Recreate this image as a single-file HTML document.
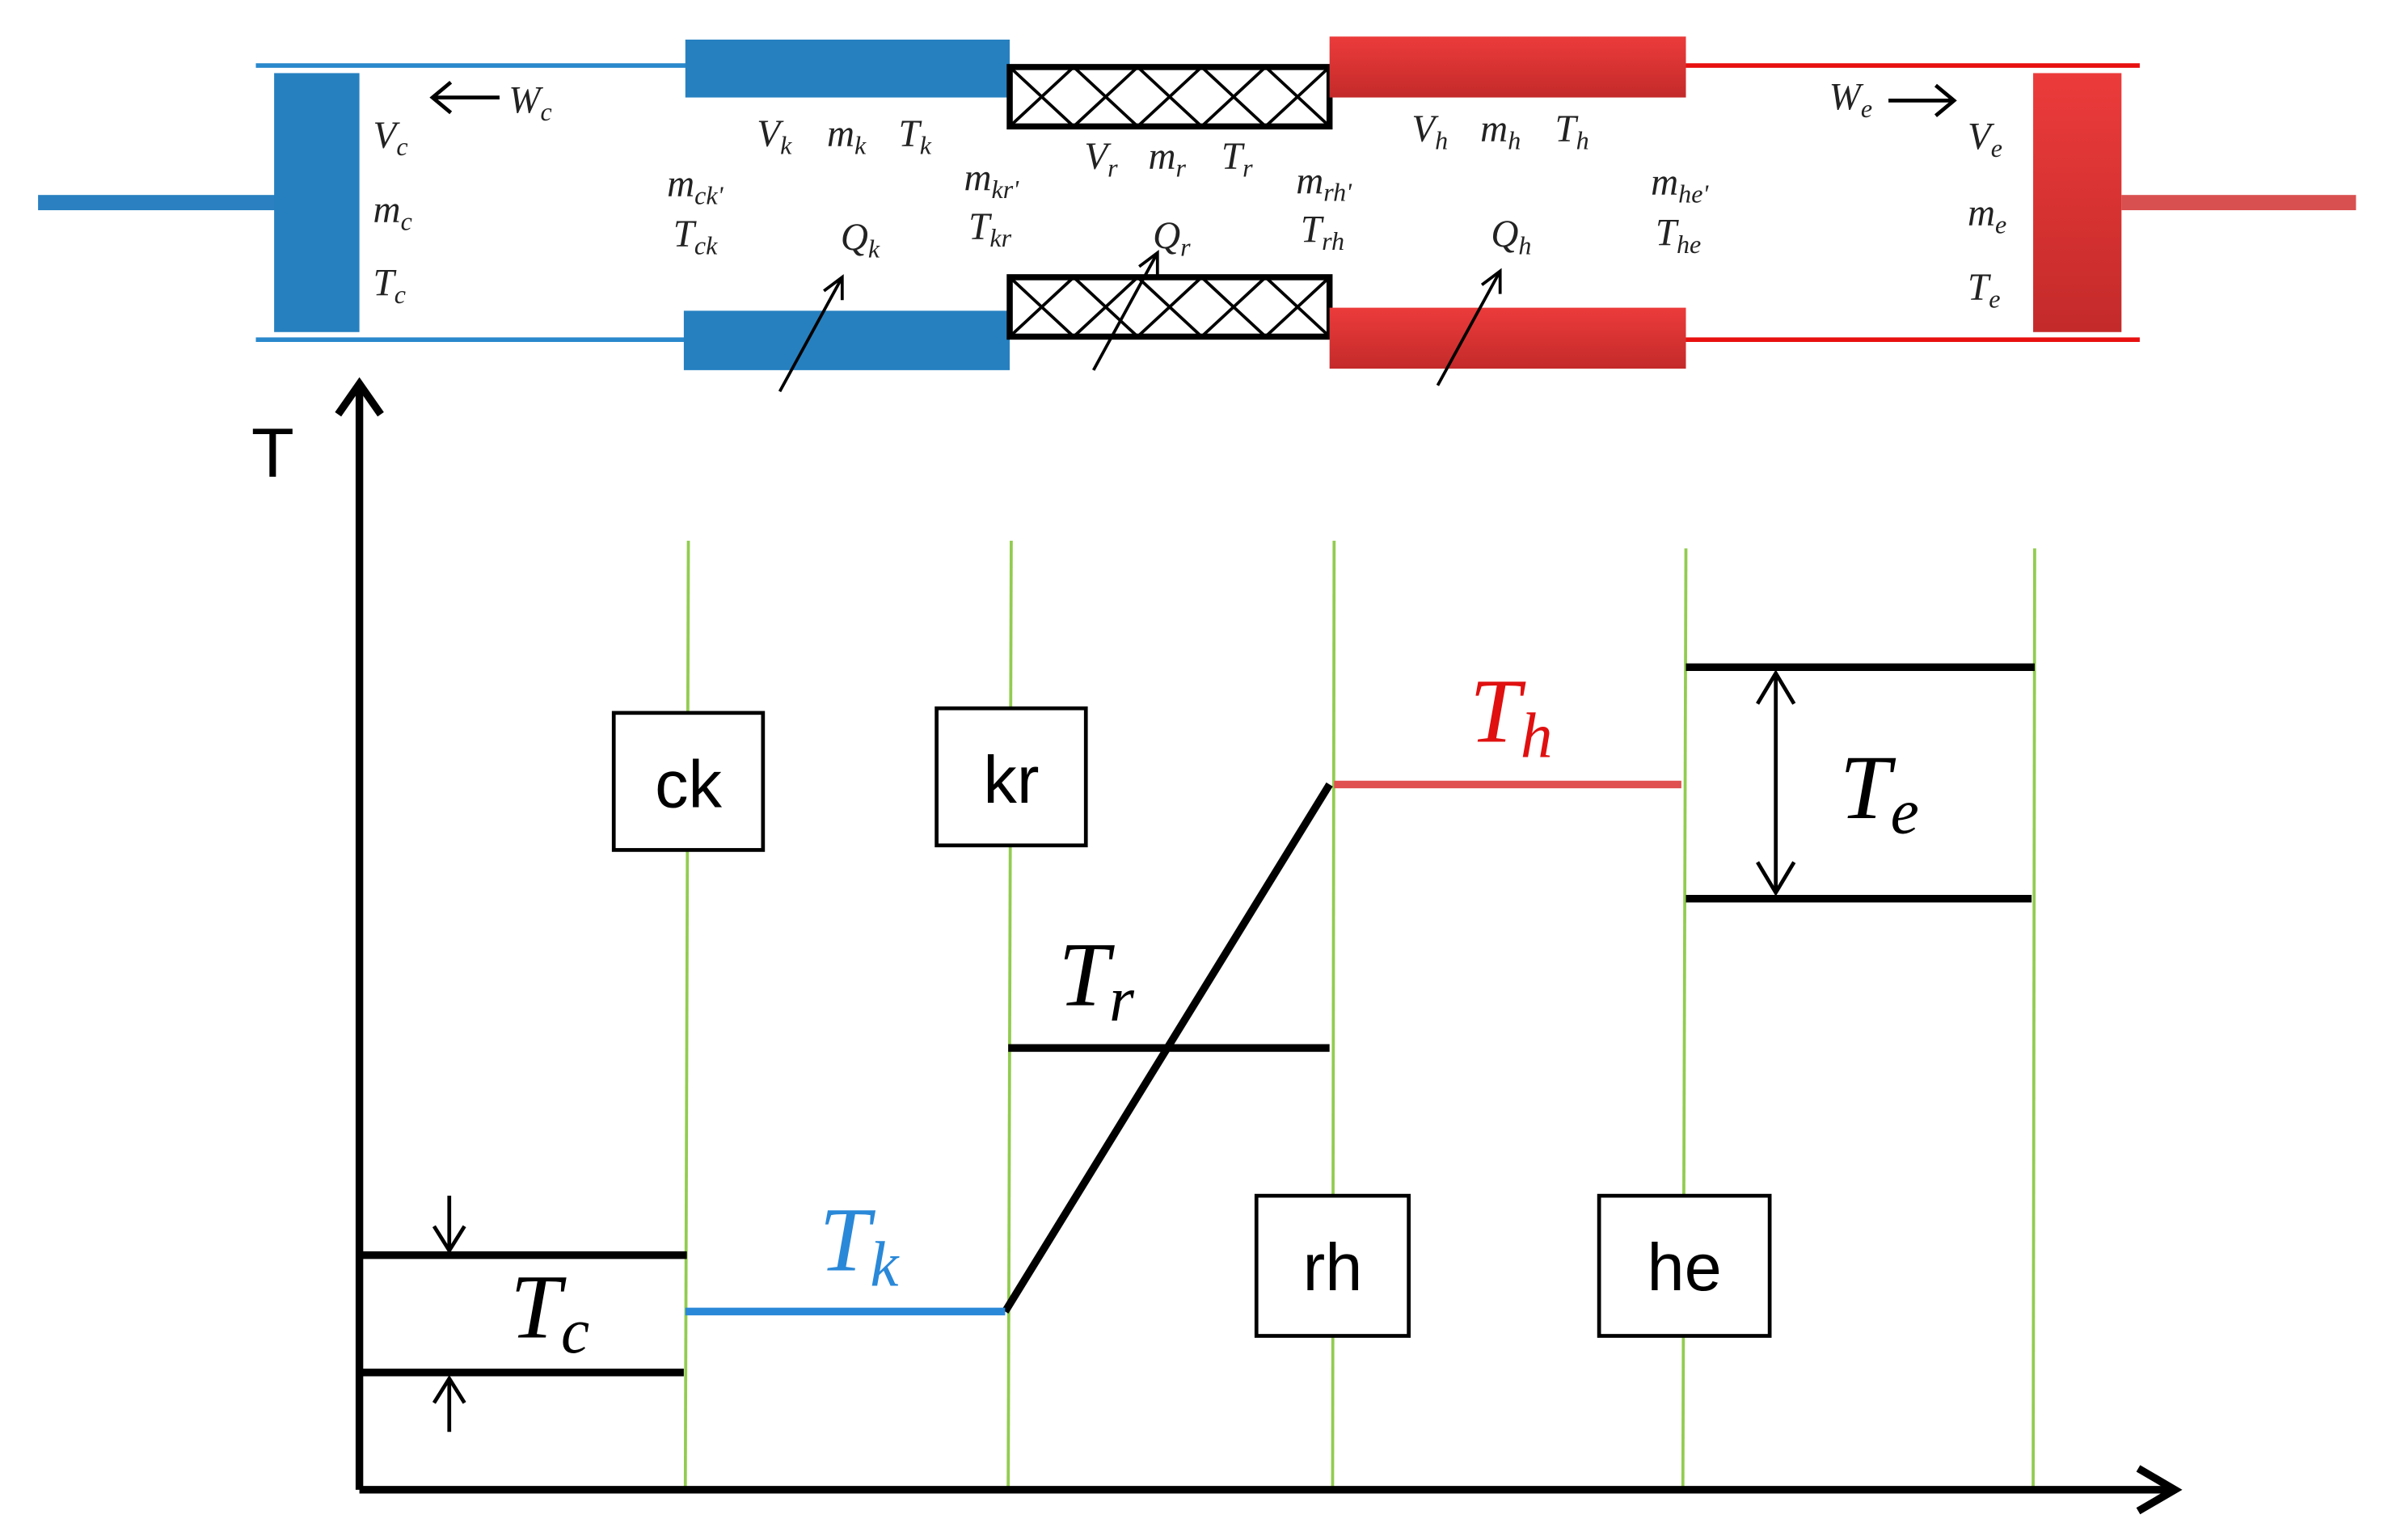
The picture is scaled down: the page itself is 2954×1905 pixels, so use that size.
<!DOCTYPE html>
<html><head><meta charset="utf-8"><style>
html,body{margin:0;padding:0;background:#fff;}
svg{display:block;}
.m{font-family:"Liberation Serif",serif;font-style:italic;font-size:25px;fill:#222;}
.s{font-size:17px;}
.b{font-family:"Liberation Serif",serif;font-style:italic;font-size:60px;}
.bs{font-size:42px;}
.box{font-family:"Liberation Sans",sans-serif;font-size:44px;fill:#000;}
</style></head><body>
<svg width="2954" height="1905" viewBox="0 0 1568 1011" preserveAspectRatio="none" xmlns="http://www.w3.org/2000/svg">
<defs>
<linearGradient id="rg" x1="0" y1="0" x2="0" y2="1"><stop offset="0" stop-color="#ec3b3b"/><stop offset="1" stop-color="#c42a2a"/></linearGradient>
</defs>
<rect x="25" y="128" width="156" height="10" fill="#2a80c0"/>
<rect x="180" y="48" width="56" height="170" fill="#2680c0"/>
<line x1="168" y1="43" x2="452" y2="43" stroke="#2a88cc" stroke-width="3"/>
<line x1="168" y1="223" x2="452" y2="223" stroke="#2a88cc" stroke-width="3"/>
<rect x="450" y="26" width="213" height="38" fill="#2680c0"/>
<rect x="449" y="204" width="214" height="39" fill="#2680c0"/>
<g stroke="#000" fill="none">
<rect x="663" y="44" width="210" height="39" stroke-width="4"/>
<rect x="663" y="182" width="210" height="39" stroke-width="4"/>
<path d="M663,44 L705,83 M705,44 L663,83 M705,44 L747,83 M747,44 L705,83 M747,44 L789,83 M789,44 L747,83 M789,44 L831,83 M831,44 L789,83 M831,44 L873,83 M873,44 L831,83" stroke-width="2"/>
<path d="M663,182 L705,221 M705,182 L663,221 M705,182 L747,221 M747,182 L705,221 M747,182 L789,221 M789,182 L747,221 M789,182 L831,221 M831,182 L789,221 M831,182 L873,221 M873,182 L831,221" stroke-width="2"/>
</g>
<rect x="873" y="24" width="234" height="40" fill="url(#rg)"/>
<rect x="873" y="202" width="234" height="40" fill="url(#rg)"/>
<line x1="1107" y1="43" x2="1405" y2="43" stroke="#e81010" stroke-width="3"/>
<line x1="1107" y1="223" x2="1405" y2="223" stroke="#e81010" stroke-width="3"/>
<rect x="1335" y="48" width="58" height="170" fill="url(#rg)"/>
<rect x="1393" y="128" width="154" height="10" fill="#d95050"/>
<g stroke="#000" stroke-width="2.5" fill="none">
<line x1="284" y1="64" x2="328" y2="64"/><polyline points="296,54 284,64 296,74"/>
<line x1="1240" y1="66" x2="1283" y2="66"/><polyline points="1271,56 1283,66 1271,76"/>
<line x1="512" y1="257" x2="553" y2="182" stroke-width="2"/><polyline points="541,191 553,182 553,197" stroke-width="2"/>
<line x1="718" y1="243" x2="760" y2="166" stroke-width="2"/><polyline points="748,175 760,166 760,182" stroke-width="2"/>
<line x1="944" y1="253" x2="985" y2="178" stroke-width="2"/><polyline points="973,187 985,178 985,193" stroke-width="2"/>
</g>
<g class="m">
<text x="334" y="74">W<tspan class="s" dy="5">c</tspan></text>
<text x="245" y="97">V<tspan class="s" dy="5">c</tspan></text>
<text x="245" y="146">m<tspan class="s" dy="5">c</tspan></text>
<text x="245" y="194">T<tspan class="s" dy="5">c</tspan></text>
<text x="497" y="96">V<tspan class="s" dy="5">k</tspan></text>
<text x="543" y="96">m<tspan class="s" dy="5">k</tspan></text>
<text x="590" y="96">T<tspan class="s" dy="5">k</tspan></text>
<text x="438" y="129">m<tspan class="s" dy="5">ck'</tspan></text>
<text x="442" y="162">T<tspan class="s" dy="5">ck</tspan></text>
<text x="552" y="164">Q<tspan class="s" dy="5">k</tspan></text>
<text x="633" y="125">m<tspan class="s" dy="5">kr'</tspan></text>
<text x="636" y="157">T<tspan class="s" dy="5">kr</tspan></text>
<text x="712" y="111">V<tspan class="s" dy="5">r</tspan></text>
<text x="754" y="111">m<tspan class="s" dy="5">r</tspan></text>
<text x="802" y="111">T<tspan class="s" dy="5">r</tspan></text>
<text x="757" y="163">Q<tspan class="s" dy="5">r</tspan></text>
<text x="851" y="127">m<tspan class="s" dy="5">rh'</tspan></text>
<text x="854" y="159">T<tspan class="s" dy="5">rh</tspan></text>
<text x="927" y="93">V<tspan class="s" dy="5">h</tspan></text>
<text x="972" y="93">m<tspan class="s" dy="5">h</tspan></text>
<text x="1021" y="93">T<tspan class="s" dy="5">h</tspan></text>
<text x="979" y="162">Q<tspan class="s" dy="5">h</tspan></text>
<text x="1084" y="128">m<tspan class="s" dy="5">he'</tspan></text>
<text x="1087" y="161">T<tspan class="s" dy="5">he</tspan></text>
<text x="1201" y="72">W<tspan class="s" dy="5">e</tspan></text>
<text x="1292" y="98">V<tspan class="s" dy="5">e</tspan></text>
<text x="1292" y="148">m<tspan class="s" dy="5">e</tspan></text>
<text x="1292" y="197">T<tspan class="s" dy="5">e</tspan></text>
</g>
<g stroke="#92cc50" stroke-width="2">
<line x1="452" y1="355" x2="450" y2="978"/>
<line x1="664" y1="355" x2="662" y2="978"/>
<line x1="876" y1="355" x2="875" y2="978"/>
<line x1="1107" y1="360" x2="1105" y2="978"/>
<line x1="1336" y1="360" x2="1335" y2="978"/>
</g>
<g stroke="#000" stroke-width="5" fill="none">
<line x1="236" y1="978" x2="236" y2="252"/>
<polyline points="222,272 236,252 250,272"/>
<line x1="236" y1="978" x2="1428" y2="978"/>
<polyline points="1404,964 1428,978 1404,992"/>
<line x1="236" y1="824" x2="451" y2="824"/>
<line x1="236" y1="901" x2="449" y2="901"/>
<line x1="662" y1="688" x2="873" y2="688"/>
<line x1="660" y1="861" x2="873" y2="515"/>
<line x1="1107" y1="438" x2="1336" y2="438"/>
<line x1="1107" y1="590" x2="1334" y2="590"/>
</g>
<line x1="450" y1="861" x2="660" y2="861" stroke="#2a88d8" stroke-width="5"/>
<line x1="876" y1="515" x2="1104" y2="515" stroke="#e05050" stroke-width="5"/>
<g stroke="#000" stroke-width="2.5" fill="none">
<line x1="295" y1="785" x2="295" y2="821"/><polyline points="285,805 295,821 305,805"/>
<line x1="295" y1="940" x2="295" y2="905"/><polyline points="285,921 295,905 305,921"/>
<line x1="1166" y1="442" x2="1166" y2="586"/><polyline points="1154,462 1166,442 1178,462"/><polyline points="1154,566 1166,586 1178,566"/>
</g>
<text x="165" y="313" class="box" style="font-size:46px">T</text>
<g class="b">
<text x="335" y="878">T<tspan class="bs" dy="10">c</tspan></text>
<text x="538" y="834" fill="#2a88d8">T<tspan class="bs" dy="10">k</tspan></text>
<text x="695" y="660">T<tspan class="bs" dy="10">r</tspan></text>
<text x="965" y="487" fill="#e01010">T<tspan class="bs" dy="10">h</tspan></text>
<text x="1208" y="537">T<tspan class="bs" dy="10">e</tspan></text>
</g>
<g fill="#fff" stroke="#000" stroke-width="2.5">
<rect x="403" y="468" width="98" height="90"/>
<rect x="615" y="465" width="98" height="90"/>
<rect x="825" y="785" width="100" height="92"/>
<rect x="1050" y="785" width="112" height="92"/>
</g>
<g class="box" text-anchor="middle">
<text x="452" y="530">ck</text>
<text x="664" y="527">kr</text>
<text x="875" y="847">rh</text>
<text x="1106" y="847">he</text>
</g>
</svg>
</body></html>
